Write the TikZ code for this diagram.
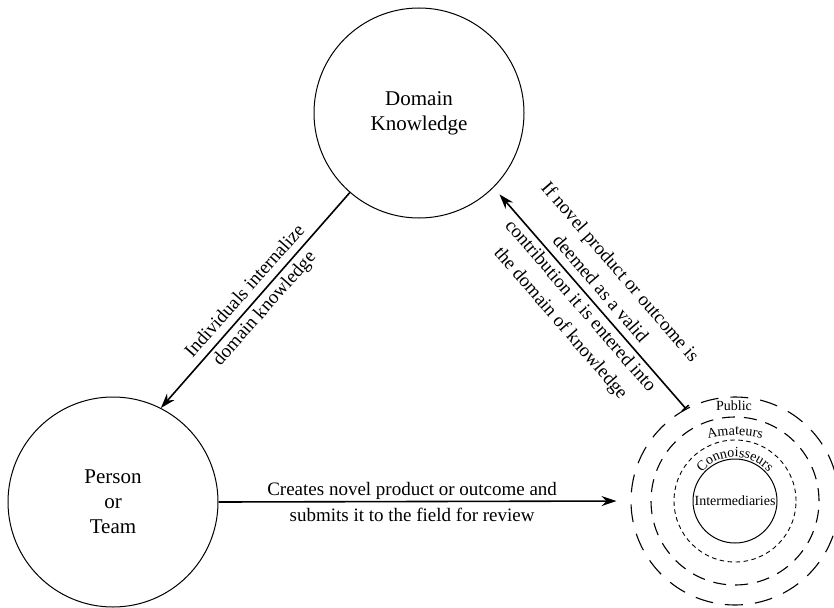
\documentclass[tikz,border=0pt]{standalone}
\usepackage{fontspec}
\setmainfont{Liberation Serif}
\usepackage{tikz}
\usetikzlibrary{positioning,arrows.meta,decorations.text,calc}

\tikzset{
  bigcirc/.style={draw, circle, line width=1pt, minimum size=210pt, inner sep=0pt, align=center, font=\fontsize{21}{25}\selectfont},
  flow/.style={line width=1.6pt, -{Stealth[length=15pt,width=10pt,inset=5pt]}},
  flowlabel/.style={align=center, font=\fontsize{19}{26}\selectfont},
  ring/.style={draw, circle, line width=1.1pt, inner sep=0pt},
  ringlabel/.style={font=\fontsize{14}{16}\selectfont},
}

\begin{document}
\begin{tikzpicture}[x=1pt,y=1pt,yscale=-1,xscale=1]
\useasboundingbox (0,0) rectangle (834,607);

%Shape: Circle [Domain Knowledge]
\node[bigcirc] (dk) at (419,113) {Domain\\Knowledge};
%Shape: Circle [Person or Team]
\node[bigcirc] (pt) at (113,502) {Person\\or\\Team};

%Shape: Rings of the field
\node[ring, minimum size=208pt, dash pattern=on 18pt off 12pt] (pub) at (735,501) {};
\node[ring, minimum size=168pt, dash pattern=on 13pt off 9pt] (ama) at (735,501) {};
\node[ring, minimum size=122pt, line width=0.9pt, dash pattern=on 4.5pt off 3.5pt] (con) at (735,501) {};
\node[ring, minimum size=84pt, line width=1pt, ringlabel] (itm) at (735,501) {Intermediaries};

% Text Node
\node[ringlabel] (publbl) at (734,406) {Public};
% Text Node
\path[decorate, decoration={text along path, text={|\fontsize{14}{16}\selectfont|Amateurs}, text align=center}]
  ($(pub.center)+(-110,44)$) arc[start angle=180, end angle=360, radius=110];
% Text Node
\path[decorate, decoration={text along path, text={|\fontsize{14}{16}\selectfont|Connoisseurs}, text align=center}]
  ($(pub.center)+(-44,0)$) arc[start angle=180, end angle=360, radius=44];

%Straight Lines
\draw[flow] (dk.229) -- node[rotate=48.5, flowlabel] {Individuals internalize\\domain knowledge} (pt.63);
%Straight Lines
\draw[flow, shorten >=14pt] (pt.east) -- node[pos=0.47, flowlabel] {Creates novel product or outcome and\\submits it to the field for review} (pub.west);
%Straight Lines
\draw[flow, {Bar[width=9pt]}-{Stealth[length=15pt,width=10pt,inset=5pt]}, shorten >=9pt] (pub.118) -- node[rotate=-49.2, flowlabel] {If novel product or outcome is\\deemed as a valid\\contribution it is entered into\\the domain of knowledge} (dk.-45);

\end{tikzpicture}
\end{document}
